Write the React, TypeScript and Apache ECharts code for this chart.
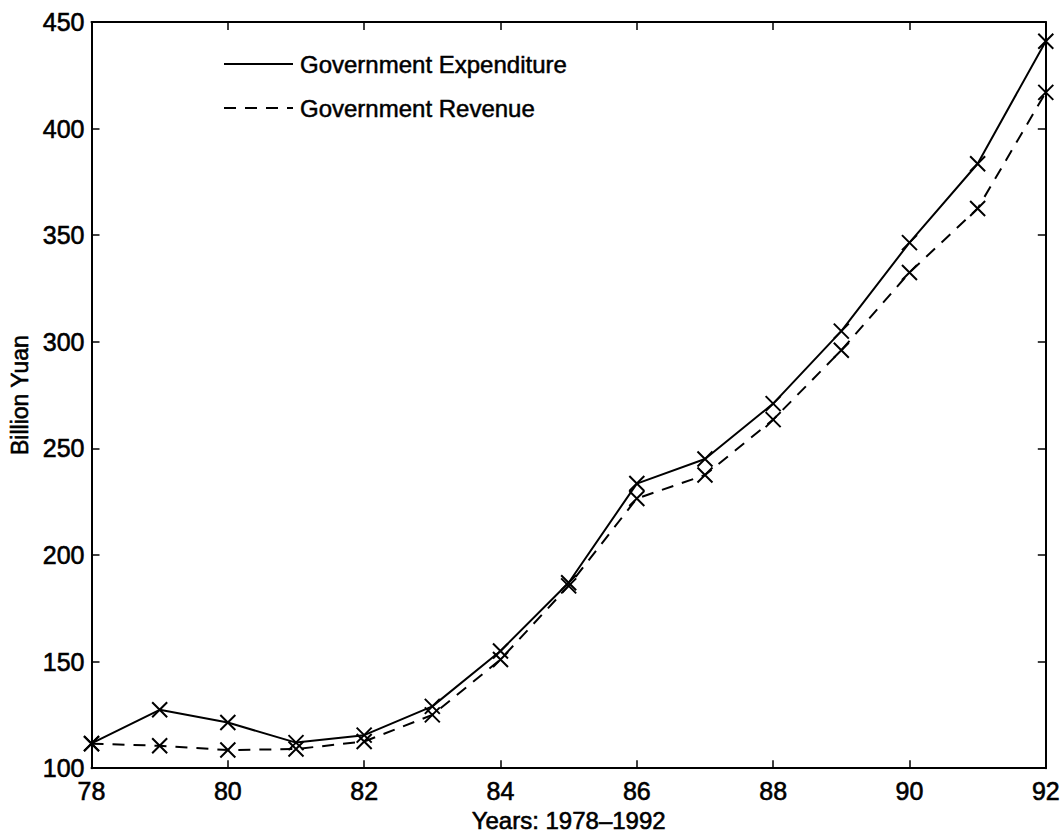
import React, { useEffect, useRef } from "react";
import * as echarts from "echarts";

// Years on the x axis (two-digit, 1978–1992)
const years = [78, 79, 80, 81, 82, 83, 84, 85, 86, 87, 88, 89, 90, 91, 92];

// Billion yuan
const expenditure = [111.6, 127.4, 121.4, 112.0, 115.5, 129.0, 155.0, 187.0, 233.5, 245.0, 271.0, 305.0, 346.5, 383.5, 441.0];
const revenue = [111.5, 110.5, 108.5, 109.0, 112.5, 125.0, 151.0, 185.5, 226.5, 237.5, 263.5, 296.0, 332.5, 362.5, 417.0];

const seriesNames = ["Government Expenditure", "Government Revenue"];
const xTitle = "Years: 1978\u20131992";
const yTitle = "Billion Yuan";

const FONT = "'Liberation Sans', Arial, Helvetica, sans-serif";
const CROSS = "path://M0,0L10,10M10,0L0,10";

const GRID = { left: 89, right: 17, top: 22, bottom: 61 };

export default function App() {
  const ref = useRef<HTMLDivElement>(null);

  useEffect(() => {
    if (!ref.current) return;
    const chart = echarts.init(ref.current, null, { renderer: "svg" });

    const pair = (vals: number[]) => years.map((y, i) => [y, vals[i]]);

    const axisLine = { show: true, lineStyle: { color: "#000", width: 2 } };
    const axisTick = { show: true, inside: true, length: 8, lineStyle: { color: "#000", width: 1.5 } };
    const labelStyle = {
      color: "#000",
      fontFamily: FONT,
      fontSize: 25,
      textBorderColor: "#000",
      textBorderWidth: 0.6,
    };

    const legendX0 = 224;
    const legendX1 = 293;
    const legendYs = [64, 108];
    const legendDash = [null, [12, 9]];

    const legendGraphics: any[] = [];
    seriesNames.forEach((name, i) => {
      legendGraphics.push({
        type: "line",
        shape: { x1: legendX0, y1: legendYs[i], x2: legendX1, y2: legendYs[i] },
        style: { stroke: "#000", lineWidth: 2, lineDash: legendDash[i] || undefined },
      });
      legendGraphics.push({
        type: "text",
        x: 300,
        y: legendYs[i],
        style: {
          text: name,
          fill: "#000",
          stroke: "#000",
          lineWidth: 0.5,
          font: `24px ${FONT}`,
          verticalAlign: "middle",
          align: "left",
        },
      });
    });

    chart.setOption({
      animation: false,
      backgroundColor: "#fff",
      grid: GRID,
      xAxis: [
        {
          type: "value",
          min: 78,
          max: 92,
          interval: 2,
          position: "bottom",
          axisLine,
          axisTick,
          splitLine: { show: false },
          axisLabel: { ...labelStyle, margin: 10 },
          name: xTitle,
          nameLocation: "middle",
          nameGap: 31,
          nameTextStyle: { ...labelStyle, fontSize: 24 },
        },
        {
          type: "value",
          min: 78,
          max: 92,
          interval: 2,
          position: "top",
          axisLine,
          axisTick,
          splitLine: { show: false },
          axisLabel: { show: false },
        },
      ],
      yAxis: [
        {
          type: "value",
          min: 100,
          max: 450,
          interval: 50,
          position: "left",
          axisLine,
          axisTick,
          splitLine: { show: false },
          axisLabel: { ...labelStyle, margin: 7 },
          name: yTitle,
          nameLocation: "middle",
          nameGap: 59,
          nameTextStyle: { ...labelStyle, fontSize: 23 },
        },
        {
          type: "value",
          min: 100,
          max: 450,
          interval: 50,
          position: "right",
          axisLine,
          axisTick,
          splitLine: { show: false },
          axisLabel: { show: false },
        },
      ],
      series: [
        {
          name: seriesNames[0],
          type: "line",
          data: pair(expenditure),
          symbol: CROSS,
          symbolSize: 15,
          showAllSymbol: true,
          lineStyle: { color: "#000", width: 2, type: "solid" },
          itemStyle: { color: "none", borderColor: "#000", borderWidth: 2 },
          z: 3,
        },
        {
          name: seriesNames[1],
          type: "line",
          data: pair(revenue),
          symbol: CROSS,
          symbolSize: 15,
          showAllSymbol: true,
          lineStyle: { color: "#000", width: 2, type: [12, 9] },
          itemStyle: { color: "none", borderColor: "#000", borderWidth: 2 },
          z: 2,
        },
      ],
      graphic: legendGraphics,
    });

    return () => chart.dispose();
  }, []);

  return (
    <div
      ref={ref}
      style={{ position: "fixed", left: 0, top: 0, width: 1063, height: 838, background: "#fff" }}
    />
  );
}
